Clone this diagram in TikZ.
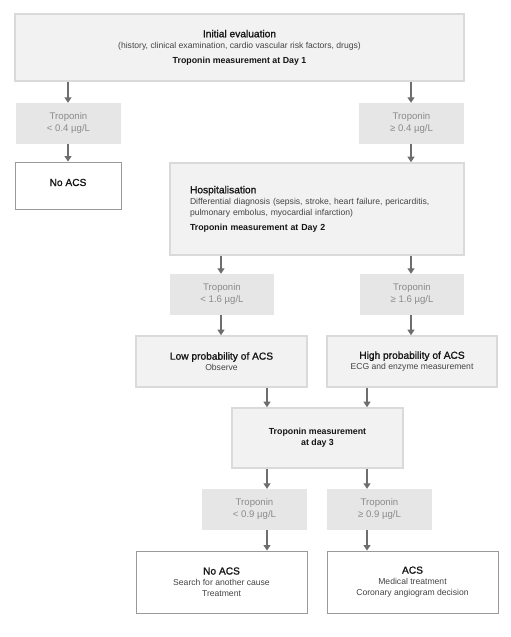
\documentclass[tikz,border=0pt]{standalone}
\usepackage{fontspec}
\setmainfont{Liberation Sans}
\newfontfamily\medfont[FakeBold=1.2]{Liberation Sans}
\usetikzlibrary{arrows.meta}
\definecolor{mainfill}{HTML}{F2F2F2}
\definecolor{mainline}{HTML}{DADADA}
\definecolor{tropfill}{HTML}{E6E6E6}
\definecolor{troptext}{HTML}{8A8A8A}
\definecolor{endline}{HTML}{9A9A9A}
\definecolor{arrcol}{HTML}{6E6E6E}
\definecolor{bodytext}{HTML}{444444}
\definecolor{headtext}{HTML}{151515}
\newcommand{\hd}[1]{{\medfont\fontsize{10.2}{12}\selectfont\color{headtext}#1}}
\newcommand{\bd}[1]{{\bfseries\fontsize{8.8}{11}\selectfont\color{headtext}#1}}
\begin{document}
\begin{tikzpicture}[x=1pt,y=-1pt,
  base/.style={inner sep=0pt, align=center, font=\fontsize{8.6}{11}\selectfont, text=bodytext},
  mainbox/.style={base, fill=mainfill, draw=mainline, line width=1.6pt},
  tropbox/.style={base, fill=tropfill, draw=none, text=troptext, font=\fontsize{9.6}{12}\selectfont},
  endbox/.style={base, fill=white, draw=endline, line width=0.9pt},
  arr/.style={draw=arrcol, line width=1.3pt, -{Triangle[width=7pt,length=5.5pt]}}
]
\useasboundingbox (0,0) rectangle (511,637);

\node[mainbox, minimum width=449pt, minimum height=67pt] (init) at (239.5,47.5)
  {\hd{Initial evaluation}\\(history, clinical examination, cardio vascular risk factors, drugs)\\[4pt]\bd{Troponin measurement at Day 1}};
\node[tropbox, minimum width=105pt, minimum height=41pt] (t1) at (68.5,123.5) {Troponin\\< 0.4 µg/L};
\node[tropbox, minimum width=105pt, minimum height=41pt] (t2) at (411.5,123.5) {Troponin\\≥ 0.4 µg/L};
\node[endbox, minimum width=106pt, minimum height=47pt, text height=5pt, text depth=4pt] (noacsA) at (68,185.5) {\hd{No ACS}};
\node[mainbox, minimum width=294pt, minimum height=92pt, text width=254pt, align=left] (hosp) at (317,209)
  {\hd{Hospitalisation}\\Differential diagnosis (sepsis, stroke, heart failure, pericarditis,\\pulmonary embolus, myocardial infarction)\\[4pt]\bd{Troponin measurement at Day 2}};
\node[tropbox, minimum width=104pt, minimum height=41pt] (t3) at (222,294.5) {Troponin\\< 1.6 µg/L};
\node[tropbox, minimum width=104pt, minimum height=41pt] (t4) at (412,294.5) {Troponin\\≥ 1.6 µg/L};
\node[mainbox, minimum width=171pt, minimum height=51pt] (low) at (221.5,361.5) {\hd{Low probability of ACS}\\Observe};
\node[mainbox, minimum width=170pt, minimum height=51pt] (high) at (412,361.5) {\hd{High probability of ACS}\\ECG and enzyme measurement};
\node[mainbox, minimum width=171pt, minimum height=60pt] (day3) at (317.5,438) {\bd{Troponin measurement}\\\bd{at day 3}};
\node[tropbox, minimum width=105pt, minimum height=41pt] (t5) at (254.5,509.5) {Troponin\\< 0.9 µg/L};
\node[tropbox, minimum width=105pt, minimum height=41pt] (t6) at (379.5,509.5) {Troponin\\≥ 0.9 µg/L};
\node[endbox, minimum width=171pt, minimum height=62pt] (noacsB) at (221.5,582) {\hd{No ACS}\\Search for another cause\\Treatment};
\node[endbox, minimum width=171pt, minimum height=62pt] (acs) at (412.5,582) {\hd{ACS}\\Medical treatment\\Coronary angiogram decision};

\coordinate (xa) at (68,0);
\coordinate (xb) at (411,0);
\coordinate (xc) at (221,0);
\coordinate (xd) at (267,0);
\coordinate (xe) at (367,0);

\draw[arr] (init.south -| xa) -- (t1.north -| xa);
\draw[arr] (t1.south -| xa) -- (noacsA.north -| xa);
\draw[arr] (init.south -| xb) -- (t2.north -| xb);
\draw[arr] (t2.south -| xb) -- (hosp.north -| xb);
\draw[arr] (hosp.south -| xc) -- (t3.north -| xc);
\draw[arr] (t3.south -| xc) -- (low.north -| xc);
\draw[arr] (hosp.south -| xb) -- (t4.north -| xb);
\draw[arr] (t4.south -| xb) -- (high.north -| xb);
\draw[arr] (low.south -| xd) -- (day3.north -| xd);
\draw[arr] (high.south -| xe) -- (day3.north -| xe);
\draw[arr] (day3.south -| xd) -- (t5.north -| xd);
\draw[arr] (day3.south -| xe) -- (t6.north -| xe);
\draw[arr] (t5.south -| xd) -- (noacsB.north -| xd);
\draw[arr] (t6.south -| xe) -- (acs.north -| xe);
\end{tikzpicture}
\end{document}
